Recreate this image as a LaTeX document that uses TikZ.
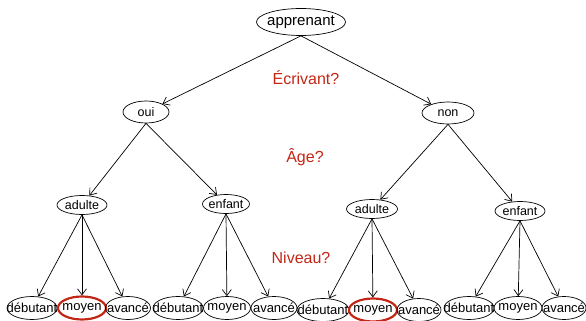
\documentclass[tikz,border=0pt]{standalone}
\usepackage{fontspec}
\setmainfont{Liberation Sans}
\usetikzlibrary{shapes.geometric,arrows.meta}
\definecolor{rouge}{RGB}{196,38,22}
\newcommand{\nlab}[1]{\makebox[0pt]{#1}}
\tikzset{
  nd/.style={ellipse,draw,inner sep=0pt,minimum height=19pt,font=\fontsize{12.5}{14}\selectfont},
  leaf/.style={nd,minimum height=23pt,font=\fontsize{13}{15}\selectfont},
  pick/.style={draw=rouge,line width=2.2pt},
  quest/.style={text=rouge,font=\fontsize{16}{18}\selectfont},
}

\begin{document}
\begin{tikzpicture}[x=1pt,y=-1pt,>={Straight Barb[length=6pt,width=9pt]},line width=0.7pt]
\useasboundingbox (0,0) rectangle (586,321);

\node[nd,minimum width=89pt,minimum height=27pt,font=\fontsize{15}{17}\selectfont] (A) at (301,22) {\nlab{apprenant}};
\node[nd,minimum width=46pt,minimum height=22pt] (B) at (146,112) {\nlab{oui}};
\node[nd,minimum width=52pt,minimum height=22pt] (C) at (448,113) {\nlab{non}};

\node[nd,minimum width=50pt] (D) at (82,205) {\nlab{adulte}};
\node[nd,minimum width=47pt] (E) at (226,204) {\nlab{enfant}};
\node[nd,minimum width=51pt] (F) at (372,209) {\nlab{adulte}};
\node[nd,minimum width=50pt] (G) at (520,211) {\nlab{enfant}};

\node[leaf,minimum width=50pt] (D1) at (32,308) {\nlab{débutant}};
\node[leaf,pick,minimum width=48pt] (D2) at (82,308) {\nlab{moyen}};
\node[leaf,minimum width=45pt] (D3) at (128,308) {\nlab{avancé}};

\node[leaf,minimum width=50pt] (E1) at (178,308) {\nlab{débutant}};
\node[leaf,minimum width=47pt] (E2) at (227,308) {\nlab{moyen}};
\node[leaf,minimum width=46pt] (E3) at (274,308) {\nlab{avancé}};

\node[leaf,minimum width=52pt] (F1) at (323,310) {\nlab{débutant}};
\node[leaf,pick,minimum width=48pt] (F2) at (373,310) {\nlab{moyen}};
\node[leaf,minimum width=44pt] (F3) at (419,310) {\nlab{avancé}};

\node[leaf,minimum width=50pt] (G1) at (469,308) {\nlab{débutant}};
\node[leaf,minimum width=48pt] (G2) at (518,308) {\nlab{moyen}};
\node[leaf,minimum width=44pt] (G3) at (564,308) {\nlab{avancé}};

\node[quest] (Q1) at (306,78) {Écrivant?};
\node[quest] (Q2) at (305,157) {Âge?};
\node[quest] (Q3) at (301,258) {Niveau?};

\draw[->] (A.south) -- (B);
\draw[->] (A.south) -- (C);

\draw[->] (B.south) -- (D);
\draw[->] (B.south) -- (E);
\draw[->] (C.south) -- (F);
\draw[->] (C.south) -- (G);

\foreach \p in {D,E,F,G}{
  \foreach \i in {1,2,3}{
    \draw[->] (\p.south) -- (\p\i);
  }
}
\end{tikzpicture}
\end{document}
